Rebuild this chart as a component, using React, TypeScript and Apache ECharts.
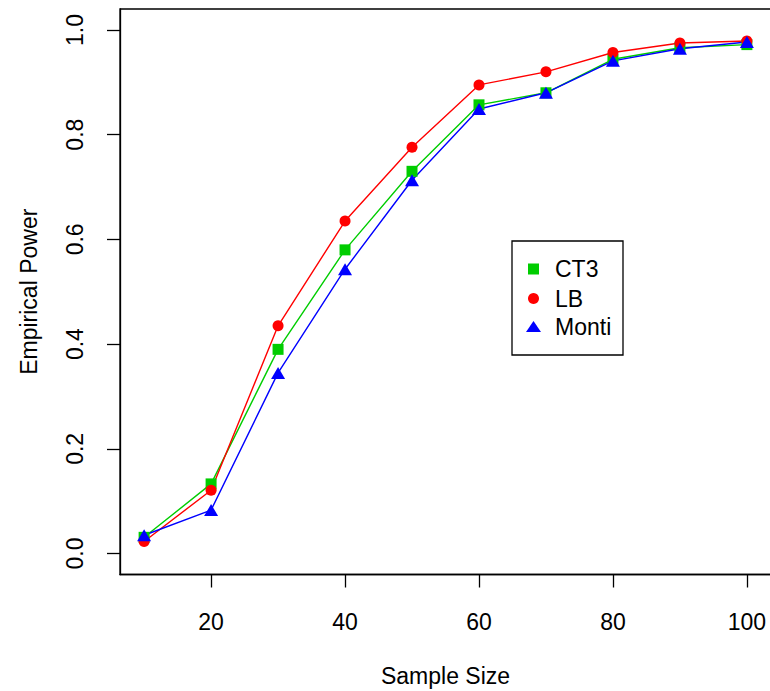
import React, { useEffect, useRef } from "react";
import * as echarts from "echarts";

// Sample sizes on the horizontal axis
const sampleSizes = [10, 20, 30, 40, 50, 60, 70, 80, 90, 100];

// Empirical power of each test
const ct3Power = [0.031, 0.133, 0.39, 0.58, 0.73, 0.857, 0.88, 0.944, 0.966, 0.972];
const lbPower = [0.023, 0.121, 0.435, 0.635, 0.776, 0.895, 0.92, 0.957, 0.975, 0.979];
const montiPower = [0.035, 0.083, 0.345, 0.543, 0.713, 0.849, 0.88, 0.941, 0.964, 0.977];

// Tick labels
const xTicks = [20, 40, 60, 80, 100];
const yTicks = [0, 0.2, 0.4, 0.6, 0.8, 1.0];

const FONT = '"Liberation Sans", Arial, Helvetica, sans-serif';
const GREEN = "#00CD00";
const RED = "#FF0000";
const BLUE = "#0000FF";

function pairs(ys: number[]) {
  return sampleSizes.map((x, i) => [x, ys[i]]);
}

export default function App() {
  const ref = useRef<HTMLDivElement>(null);

  useEffect(() => {
    if (!ref.current) return;
    const chart = echarts.init(ref.current, null, { renderer: "svg" });

    const legendX = 533.5;
    const legendRows = [
      { y: 269, label: "CT3" },
      { y: 298.5, label: "LB" },
      { y: 327, label: "Monti" },
    ];

    const axisLine = { show: true, onZero: false, lineStyle: { color: "#000", width: 1.3 } };

    chart.setOption({
      animation: false,
      backgroundColor: "#ffffff",
      grid: {
        left: 120,
        top: 9,
        width: 651,
        height: 565.5,
        outerBoundsMode: "none",
        containLabel: false,
        show: true,
        borderColor: "#000",
        borderWidth: 1.3,
        backgroundColor: "transparent",
      },
      xAxis: {
        type: "value",
        min: 6.4,
        max: 103.6,
        name: "Sample Size",
        nameLocation: "middle",
        nameGap: 90,
        nameTextStyle: { fontFamily: FONT, fontSize: 23, color: "#000" },
        axisLine,
        splitLine: { show: false },
        axisTick: {
          show: true,
          inside: false,
          length: 13,
          customValues: xTicks,
          lineStyle: { color: "#000", width: 1.3 },
        },
        axisLabel: {
          customValues: xTicks,
          margin: 36,
          fontFamily: FONT,
          fontSize: 23,
          color: "#000",
        },
      },
      yAxis: {
        type: "value",
        min: -0.04,
        max: 1.04,
        name: "Empirical Power",
        nameLocation: "middle",
        nameGap: 80,
        nameTextStyle: { fontFamily: FONT, fontSize: 23, color: "#000" },
        axisLine,
        splitLine: { show: false },
        axisTick: {
          show: true,
          inside: false,
          length: 13,
          customValues: yTicks,
          lineStyle: { color: "#000", width: 1.3 },
        },
        axisLabel: {
          customValues: yTicks,
          rotate: 90,
          margin: 34,
          fontFamily: FONT,
          fontSize: 23,
          color: "#000",
          formatter: (v: number) => v.toFixed(1),
        },
      },
      series: [
        {
          name: "CT3",
          type: "line",
          data: pairs(ct3Power),
          symbol: "rect",
          symbolSize: 11,
          showAllSymbol: true,
          lineStyle: { color: GREEN, width: 1.4 },
          itemStyle: { color: GREEN },
        },
        {
          name: "LB",
          type: "line",
          data: pairs(lbPower),
          symbol: "circle",
          symbolSize: 11,
          showAllSymbol: true,
          lineStyle: { color: RED, width: 1.4 },
          itemStyle: { color: RED },
        },
        {
          name: "Monti",
          type: "line",
          data: pairs(montiPower),
          symbol: "triangle",
          symbolSize: [14, 12],
          showAllSymbol: true,
          lineStyle: { color: BLUE, width: 1.4 },
          itemStyle: { color: BLUE },
        },
      ],
      graphic: [
        {
          type: "rect",
          z: 100,
          shape: { x: 512, y: 241, width: 111, height: 114 },
          style: { fill: "#fff", stroke: "#000", lineWidth: 1.3 },
        },
        {
          type: "rect",
          z: 101,
          shape: { x: legendX - 5.5, y: legendRows[0].y - 5.5, width: 11, height: 11 },
          style: { fill: GREEN },
        },
        {
          type: "circle",
          z: 101,
          shape: { cx: legendX, cy: legendRows[1].y, r: 5.5 },
          style: { fill: RED },
        },
        {
          type: "polygon",
          z: 101,
          shape: {
            points: [
              [legendX - 7.5, legendRows[2].y + 5],
              [legendX + 7.5, legendRows[2].y + 5],
              [legendX, legendRows[2].y - 6],
            ],
          },
          style: { fill: BLUE },
        },
        ...legendRows.map((r) => ({
          type: "text",
          z: 101,
          x: 555,
          y: r.y,
          style: {
            text: r.label,
            fontFamily: FONT,
            fontSize: 23,
            fill: "#000",
            verticalAlign: "middle",
            align: "left",
          },
        })),
      ],
    });

    return () => chart.dispose();
  }, []);

  return (
    <div
      ref={ref}
      style={{ position: "absolute", left: 0, top: 0, width: 770, height: 691 }}
    />
  );
}
